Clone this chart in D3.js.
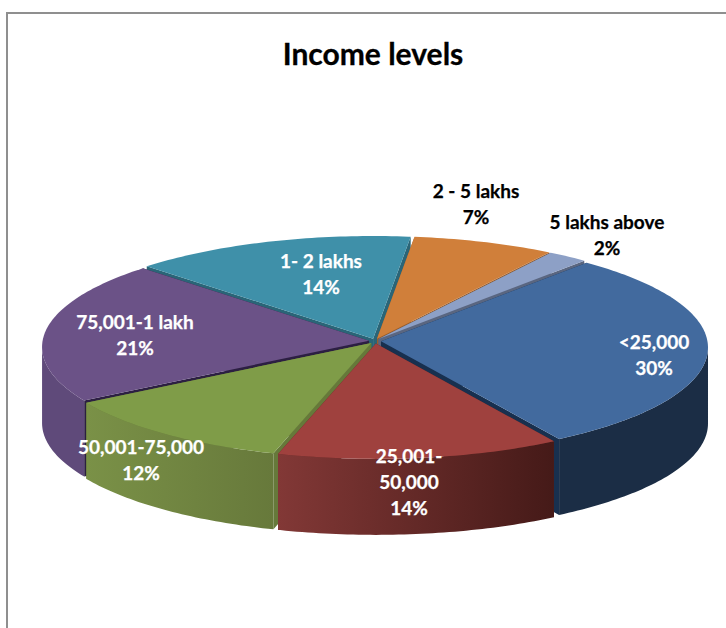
<!DOCTYPE html>
<html>
<head>
<meta charset="utf-8">
<script src="https://cdn.jsdelivr.net/npm/d3@7"></script>
<style>
  html, body { margin: 0; padding: 0; background: #fff; }
  svg { display: block; }
  text { font-family: Lato, "Open Sans", sans-serif; font-weight: 700; }
</style>
</head>
<body>
<div id="chart"></div>
<script>
// Income distribution, drawn as an exploded 3D pie.
const categories = ["<25,000", "25,001-50,000", "50,001-75,000", "75,001-1 lakh", "1- 2 lakhs", "2 - 5 lakhs", "5 lakhs above"];
const shares = [30, 14, 12, 21, 14, 7, 2];
const labelLines = [["<25,000"], ["25,001-", "50,000"], ["50,001-75,000"], ["75,001-1 lakh"], ["1- 2 lakhs"], ["2 - 5 lakhs"], ["5 lakhs above"]];
const topColors = ["#426a9e", "#9f413e", "#7f9c48", "#6b5287", "#3f90a9", "#d07f3a", "#8da0c6"];
const wallStart = ["#1b2d45", "#823836", "#7a9147", "#5f4a7a", "#2f6f83", "#9a5e2b", "#5d6a85"];
const wallEnd = ["#1b2d45", "#451a18", "#67793b", "#5f4a7a", "#2f6f83", "#9a5e2b", "#5d6a85"];
const cutColors = ["#18304f", "#5c2624", "#66793a", "#2c1f42", "#2a6577", "#9a5e2b", "#5a6680"];
const labelColors = ["#fff", "#fff", "#fff", "#fff", "#fff", "#000", "#000"];
// Text anchor of each label: centre x and centre y of its first line.
const labelX = [654, 409, 141, 135, 321, 476, 607];
const labelY = [341, 455, 446, 321, 260, 190, 221];
// Back slices are painted first so nearer slices overlap them.
const paintOrder = [4, 5, 6, 3, 0, 2, 1];

const width = 726, height = 628;
const cx = 375, cy = 347.4, rx = 327, ry = 109;   // rim ellipse
const apexX = 375, apexY = 341;                   // perspective shifts the hub upward
const depth = 76, explodeX = 6, explodeY = 2.5;
const firstAngle = 39 * Math.PI / 180;

const svg = d3.select("#chart").append("svg").attr("width", width).attr("height", height);
const defs = svg.append("defs");

// Chart frame
svg.append("path")
  .attr("d", `M7,${height}V13H${width}`)
  .attr("fill", "none").attr("stroke", "#8f8f8f").attr("stroke-width", 2);

svg.append("text").attr("x", 373).attr("y", 53).attr("text-anchor", "middle")
  .attr("dominant-baseline", "central").attr("font-size", 30).attr("fill", "#000")
  .attr("stroke", "#000").attr("stroke-width", 0.3).text("Income levels");

const arcs = d3.pie().sort(null).value(d => d)
  .startAngle(firstAngle).endAngle(firstAngle + 2 * Math.PI)(shares);

const rimX = d3.scaleLinear().domain([-1, 1]).range([cx - rx, cx + rx]);
const rimY = d3.scaleLinear().domain([-1, 1]).range([cy + ry, cy - ry]);
const line = d3.line().x(d => d[0]).y(d => d[1]);
const step = Math.PI / 180;

function sweep(a0, a1) {
  const angles = d3.range(a0, a1, step);
  angles.push(a1);
  return angles;
}

function drawSlice(i) {
  const a = arcs[i];
  const mid = (a.startAngle + a.endAngle) / 2;
  const dx = explodeX * Math.sin(mid), dy = -explodeY * Math.cos(mid);
  const rim = t => [rimX(Math.sin(t)) + dx, rimY(Math.cos(t)) + dy];
  const apex = [apexX + dx, apexY + dy];
  const drop = p => [p[0], p[1] + depth];
  const g = svg.append("g").attr("class", "slice");

  // Radial cut faces, seen through the gaps between exploded slices
  [a.startAngle, a.endAngle].forEach(t => {
    const p = rim(t);
    g.append("path").attr("d", line([apex, p, drop(p), drop(apex)]) + "Z").attr("fill", cutColors[i]);
  });

  // Outer wall: only the part of the rim that faces the viewer
  const turn = 2 * Math.PI;
  [0, turn].forEach(shift => {
    const from = Math.max(a.startAngle - shift, Math.PI / 2);
    const to = Math.min(a.endAngle - shift, 3 * Math.PI / 2);
    if (to <= from) return;
    const edge = sweep(from, to).map(rim);
    const xs = d3.extent(edge, p => p[0]);
    const id = "wall" + i + "-" + shift;
    const grad = defs.append("linearGradient").attr("id", id).attr("gradientUnits", "userSpaceOnUse")
      .attr("x1", xs[0]).attr("x2", xs[1]).attr("y1", 0).attr("y2", 0);
    grad.append("stop").attr("offset", 0).attr("stop-color", wallStart[i]);
    grad.append("stop").attr("offset", 1).attr("stop-color", wallEnd[i]);
    g.append("path")
      .attr("d", line(edge.concat(edge.map(drop).reverse())) + "Z")
      .attr("fill", `url(#${id})`);
  });

  // Top face
  g.append("path")
    .attr("d", line([apex].concat(sweep(a.startAngle, a.endAngle).map(rim))) + "Z")
    .attr("fill", topColors[i]);
}

paintOrder.forEach(drawSlice);

// Data labels: category lines followed by the percentage
const lineGap = 26;
shares.forEach((v, i) => {
  const rows = labelLines[i].concat(v + "%");
  svg.append("text").attr("class", "label").attr("text-anchor", "middle")
    .attr("font-size", 19).attr("fill", labelColors[i])
    .attr("stroke", labelColors[i]).attr("stroke-width", 0.25)
    .selectAll("tspan").data(rows).join("tspan")
    .attr("x", labelX[i])
    .attr("y", (d, k) => labelY[i] + k * lineGap)
    .attr("dominant-baseline", "central")
    .text(d => d);
});
</script>
</body>
</html>
